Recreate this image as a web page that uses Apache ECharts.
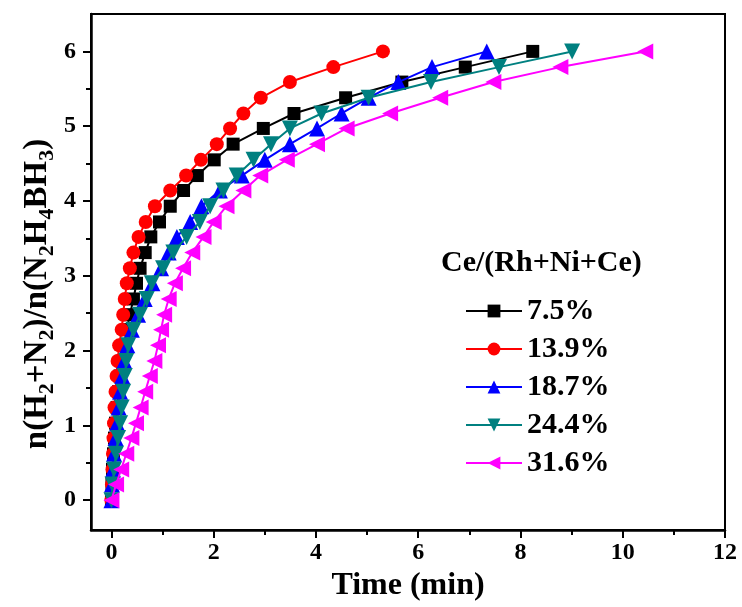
<!DOCTYPE html>
<html><head><meta charset="utf-8">
<script src="https://cdn.jsdelivr.net/npm/echarts@6/dist/echarts.min.js"></script>
<style>html,body{margin:0;padding:0;background:#fff}#c{width:742px;height:607px}</style>
</head><body><div id="c"></div>
<script>
const seriesNames = ['7.5%', '13.9%', '18.7%', '24.4%', '31.6%'];
const ratio = [0,0.21,0.41,0.62,0.83,1.03,1.24,1.45,1.66,1.86,2.07,2.28,2.48,2.69,2.90,3.10,3.31,3.52,3.72,3.93,4.14,4.34,4.55,4.76,4.97,5.17,5.38,5.59,5.79,6.00];
const time_7_5  = [0,0.01,0.02,0.04,0.06,0.08,0.11,0.14,0.17,0.21,0.25,0.30,0.36,0.43,0.49,0.56,0.66,0.77,0.94,1.15,1.41,1.68,2.01,2.38,2.97,3.57,4.58,5.68,6.92,8.24];
const time_13_9 = [0,0.01,0.02,0.03,0.04,0.05,0.06,0.08,0.10,0.12,0.15,0.20,0.23,0.26,0.30,0.36,0.43,0.53,0.67,0.85,1.15,1.46,1.75,2.06,2.32,2.58,2.92,3.49,4.34,5.31];
const time_18_7 = [0,0.01,0.03,0.05,0.08,0.11,0.14,0.17,0.21,0.25,0.31,0.40,0.52,0.65,0.80,0.97,1.12,1.28,1.54,1.76,2.12,2.55,3.00,3.49,4.02,4.50,5.03,5.61,6.27,7.34];
const time_24_4 = [0,0.02,0.05,0.09,0.13,0.17,0.20,0.23,0.26,0.29,0.33,0.43,0.56,0.69,0.79,1.01,1.21,1.47,1.73,1.93,2.19,2.45,2.78,3.12,3.49,4.11,5.03,6.25,7.58,9.01];
const time_31_6 = [0,0.09,0.19,0.29,0.39,0.48,0.57,0.66,0.75,0.84,0.91,0.97,1.03,1.12,1.24,1.40,1.58,1.80,2.00,2.25,2.58,2.91,3.43,4.02,4.60,5.45,6.43,7.47,8.78,10.44];
const xMajorTicks = [0,2,4,6,8,10,12];
const xMinorTicks = [1,3,5,7,9,11];
const yMajorTicks = [0,1,2,3,4,5,6];
const yMinorTicks = [0.5,1.5,2.5,3.5,4.5,5.5];
const legendTitle = 'Ce/(Rh+Ni+Ce)';
const xTitle = 'Time (min)';
const yTitleRich = '{a|n(H}{s|2}{a|+N}{s|2}{a|)/n(N}{s|2}{a|H}{s|4}{a|BH}{s|3}{a|)}';

const times = [time_7_5, time_13_9, time_18_7, time_24_4, time_31_6];
const colors = ['#000000', '#ff0000', '#0000ff', '#008080', '#ff00ff'];
const symbols = ['rect', 'circle', 'triangle', 'triangle', 'triangle'];
const rotates = [0, 0, 0, 180, 90];
const sizes = [13, 14, 16, 16, 16];
const FF = 'Liberation Serif';

const chart = echarts.init(document.getElementById('c'), null, {renderer: 'canvas'});
const axisFont = {fontFamily: FF, fontWeight: 'bold', fontSize: 24, color: '#000'};
chart.setOption({
  animation: false,
  backgroundColor: '#fff',
  title: {
    text: legendTitle, left: 441, top: 248, padding: 0,
    textStyle: {fontFamily: FF, fontWeight: 'bold', fontSize: 30, color: '#000'}
  },
  legend: {
    orient: 'vertical', left: 460, top: 290, itemWidth: 56, itemHeight: 16, itemGap: 6,
    textStyle: {fontFamily: FF, fontWeight: 'bold', fontSize: 30, color: '#000', lineHeight: 32},
    data: seriesNames
  },
  graphic: [{
    type: 'text', x: 36, y: 294, rotation: Math.PI / 2,
    style: {
      text: yTitleRich, align: 'center', verticalAlign: 'middle',
      rich: {
        a: {fontFamily: FF, fontWeight: 'bold', fontSize: 33, fill: '#000', lineHeight: 36, verticalAlign: 'bottom'},
        s: {fontFamily: FF, fontWeight: 'bold', fontSize: 22, fill: '#000', lineHeight: 22, verticalAlign: 'bottom', padding: [0, 0, -4, 0]}
      }
    }
  }],
  grid: {left: 91, right: 17, top: 14, bottom: 76, show: true, borderColor: '#000', borderWidth: 2, containLabel: false},
  xAxis: [{
    type: 'value', min: -0.4, max: 12, position: 'bottom',
    name: xTitle, nameLocation: 'middle', nameGap: 36,
    nameTextStyle: {fontFamily: FF, fontWeight: 'bold', fontSize: 32, color: '#000'},
    axisLine: {show: true, onZero: false, lineStyle: {color: '#000', width: 2.5}},
    axisTick: {show: true, inside: false, length: 8, lineStyle: {width: 2, color: '#000'}, customValues: xMajorTicks},
    axisLabel: {...axisFont, margin: 11, customValues: xMajorTicks},
    splitLine: {show: false}
  }, {
    type: 'value', min: -0.4, max: 12, position: 'bottom', gridIndex: 0,
    axisLine: {show: false, onZero: false},
    axisTick: {show: true, inside: false, length: 5, lineStyle: {width: 2, color: '#000'}, customValues: xMinorTicks},
    axisLabel: {show: false},
    splitLine: {show: false}
  }],
  yAxis: [{
    type: 'value', min: -0.4, max: 6.5, position: 'left',
    axisLine: {show: true, onZero: false, lineStyle: {color: '#000', width: 2.5}},
    axisTick: {show: true, inside: false, length: 8, lineStyle: {width: 2, color: '#000'}, customValues: yMajorTicks},
    axisLabel: {...axisFont, margin: 15, customValues: yMajorTicks},
    splitLine: {show: false}
  }, {
    type: 'value', min: -0.4, max: 6.5, position: 'left', gridIndex: 0,
    axisLine: {show: false, onZero: false},
    axisTick: {show: true, inside: false, length: 5, lineStyle: {width: 2, color: '#000'}, customValues: yMinorTicks},
    axisLabel: {show: false},
    splitLine: {show: false}
  }],
  series: seriesNames.map((n, i) => ({
    name: n, type: 'line', xAxisIndex: 0, yAxisIndex: 0,
    data: times[i].map((t, k) => [t, ratio[k]]),
    symbol: symbols[i], symbolSize: sizes[i], symbolRotate: rotates[i],
    showAllSymbol: true,
    lineStyle: {color: colors[i], width: 2},
    itemStyle: {color: colors[i], borderWidth: 0},
    z: 2 + i
  }))
});
</script></body></html>
